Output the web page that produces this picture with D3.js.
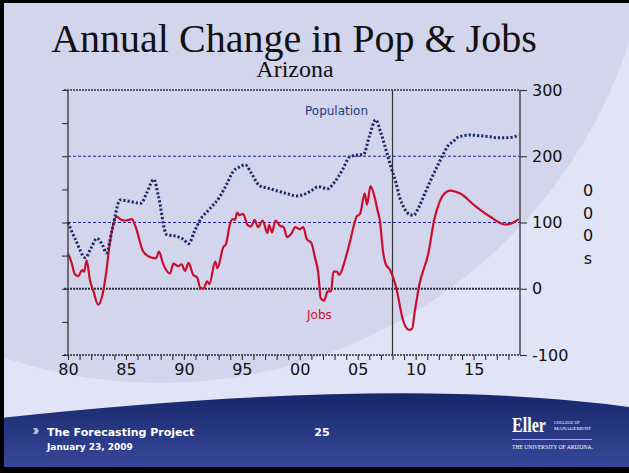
<!DOCTYPE html>
<html>
<head>
<meta charset="utf-8">
<script src="https://cdn.jsdelivr.net/npm/d3@7"></script>
<style>
  body { margin: 0; padding: 0; overflow: hidden; }
  svg { display: block; }
</style>
</head>
<body>
<svg id="chart" width="629" height="473"></svg>
<script>
// data (thousands, annual change)
var popYears = [1980.0, 1980.7, 1981.5, 1982.0, 1982.5, 1983.0, 1983.3, 1983.8, 1984.5, 1985.3,
  1986.3, 1986.8, 1987.4, 1987.8, 1988.5, 1989.4, 1990.0, 1990.4, 1990.9, 1991.4,
  1992.2, 1993.1, 1993.7, 1994.25, 1994.8, 1995.3, 1995.8, 1996.5, 1997.2, 1998.0,
  1999.0, 1999.7, 2000.3, 2000.9, 2001.6, 2002.4, 2003.0, 2003.7, 2004.3, 2005.0,
  2005.5, 2006.0, 2006.55, 2007.0, 2007.6, 2007.9, 2008.3, 2008.6, 2009.0, 2009.5,
  2009.8, 2010.3, 2010.6, 2011.2, 2012.0, 2012.35, 2012.8, 2013.2, 2013.7, 2014.65,
  2015.5, 2016.4, 2017.0, 2017.8, 2018.4, 2018.9];
var popValues = [100, 72, 47, 62, 76, 65, 54, 88, 134, 132,
  129, 145, 165, 140, 82, 79, 74, 68, 86, 104,
  120, 139, 158, 177, 184, 187, 175, 156, 152, 148,
  143, 140, 142, 147, 154, 151, 161, 180, 199, 202,
  203, 230, 255, 235, 200, 182, 160, 139, 122, 112,
  111, 124, 136, 160, 190, 202, 216, 222, 229, 232,
  231, 229.5, 228, 228, 229, 232];

var jobYears = [1980.0, 1980.3, 1980.6, 1980.9, 1981.2, 1981.4, 1981.6, 1981.9, 1982.2, 1982.6,
  1983.0, 1983.3, 1983.6, 1984.2, 1984.6, 1985.0, 1985.5, 1985.8, 1986.5, 1987.2,
  1987.6, 1987.85, 1988.2, 1988.8, 1989.1, 1989.5, 1989.8, 1990.1, 1990.4, 1990.8,
  1991.15, 1991.4, 1991.7, 1992.0, 1992.2, 1992.7, 1992.9, 1993.4, 1993.6, 1994.0,
  1994.2, 1994.4, 1994.6, 1994.8, 1995.1, 1995.5, 1995.8, 1996.1, 1996.4, 1996.8,
  1997.2, 1997.35, 1997.6, 1997.9, 1998.3, 1998.6, 1998.9, 1999.3, 1999.6, 2000.0,
  2000.3, 2000.6, 2001.0, 2001.3, 2001.6, 2001.8, 2002.1, 2002.4, 2002.7, 2002.9,
  2003.2, 2003.4, 2003.9, 2004.3, 2004.6, 2004.9, 2005.2, 2005.6, 2005.8, 2006.1,
  2006.5, 2006.7, 2006.9, 2007.2, 2007.4, 2007.8, 2008.3, 2008.9, 2009.4, 2009.7,
  2009.9, 2010.3, 2011.1, 2011.6, 2012.0, 2012.35, 2013.0, 2013.8, 2015.2, 2016.4,
  2017.7, 2018.3, 2018.9];
var jobValues = [53, 40, 22, 19, 28, 26, 43, 13, -4, -24,
  -7, 25, 68, 109, 104, 103, 105, 95, 56, 47,
  46, 56, 38, 23, 38, 34, 37, 27, 39, 21,
  17, 2, 0.5, 11, 7, 41, 31, 63, 66, 99,
  105, 104, 115, 111, 113, 96, 94, 104, 93, 103,
  84, 96, 85, 103, 95, 93, 78, 84, 93, 90,
  93, 75, 69, 48, 23, -14, -18, -4, -4, 26,
  26, 21, 43, 69, 91, 109, 113, 144, 127, 155,
  135, 119, 104, 54, 38, 28, 3, -47, -62, -60,
  -37, 5, 54, 104, 128, 141, 148, 144, 124, 109,
  97, 99, 105];

var rightTicks = [-100, 0, 100, 200, 300];
var blueGrid = [100, 200];
var darkGrid = [-100, 0, 300];
var unitLetters = ["0", "0", "0", "s"];

var svg = d3.select("#chart");

// slide background: light lavender with a darker big round sweep
svg.append("rect").attr("width", 629).attr("height", 473).attr("fill", "#e1e3f7");
svg.append("circle").attr("cx", 160).attr("cy", -110).attr("r", 493).attr("fill", "#d3d5ed");

// footer band
var defs = svg.append("defs");
var grad = defs.append("linearGradient").attr("id", "foot").attr("x1", 0).attr("y1", 0).attr("x2", 0).attr("y2", 1);
grad.append("stop").attr("offset", "0%").attr("stop-color", "#18276a");
grad.append("stop").attr("offset", "100%").attr("stop-color", "#3a4a9e");
svg.append("path")
  .attr("d", "M0,418 Q400,375 629,407 L629,473 L0,473 Z")
  .attr("fill", "url(#foot)");

// black frame on left, top and bottom
svg.append("rect").attr("x", 0).attr("y", 0).attr("width", 4).attr("height", 473).attr("fill", "#000");
svg.append("rect").attr("x", 0).attr("y", 0).attr("width", 629).attr("height", 3).attr("fill", "#000");
svg.append("rect").attr("x", 0).attr("y", 467).attr("width", 629).attr("height", 6).attr("fill", "#000");

// titles
svg.append("text")
  .attr("x", 294).attr("y", 52)
  .attr("text-anchor", "middle")
  .attr("font-family", "Liberation Serif, serif")
  .attr("font-size", 40)
  .attr("fill", "#111")
  .text("Annual Change in Pop & Jobs");
svg.append("text")
  .attr("x", 295).attr("y", 77)
  .attr("text-anchor", "middle")
  .attr("font-family", "Liberation Serif, serif")
  .attr("font-size", 24)
  .attr("fill", "#111")
  .text("Arizona");

// scales
var x = d3.scaleLinear().domain([1980, 2019]).range([68, 520]);
var y = d3.scaleLinear().domain([-100, 300]).range([355, 90]);

var plot = svg.append("g");

// horizontal reference lines
plot.selectAll(".bgrid").data(blueGrid).enter().append("line")
  .attr("x1", x(1980)).attr("x2", x(2019))
  .attr("y1", function(d) { return y(d); }).attr("y2", function(d) { return y(d); })
  .attr("stroke", "#1a239c").attr("stroke-width", 1).attr("stroke-dasharray", "3,2");
plot.selectAll(".dgrid").data(darkGrid).enter().append("line")
  .attr("x1", x(1980) - 4).attr("x2", x(2019))
  .attr("y1", function(d) { return y(d); }).attr("y2", function(d) { return y(d); })
  .attr("stroke", "#2b2b3c")
  .attr("stroke-width", function(d) { return d === 0 ? 2.2 : 1.4; })
  .attr("stroke-dasharray", "2,1");

// actual/forecast divider
plot.append("line")
  .attr("x1", x(2008)).attr("x2", x(2008))
  .attr("y1", y(300)).attr("y2", y(-100))
  .attr("stroke", "#333").attr("stroke-width", 1.2);

// axes
var fmtYear = function(d) { return d % 5 === 0 ? String(d % 100).padStart(2, "0") : ""; };
var xAxis = svg.append("g")
  .attr("transform", "translate(0," + y(-100) + ")")
  .call(d3.axisBottom(x).tickValues(d3.range(1980, 2019)).tickSize(5).tickPadding(4).tickFormat(fmtYear));
var yLeft = svg.append("g")
  .attr("transform", "translate(" + x(1980) + ",0)")
  .call(d3.axisLeft(y).tickValues(d3.range(-100, 301, 50)).tickSize(6).tickFormat(""));
// plain hyphen for negatives, as on the slide
var yRight = svg.append("g")
  .attr("transform", "translate(" + x(2019) + ",0)")
  .call(d3.axisRight(y).tickValues(rightTicks).tickSize(7).tickPadding(5)
    .tickFormat(function(d) { return String(d); }));

xAxis.select(".domain").remove();
[xAxis, yLeft, yRight].forEach(function(a) {
  a.selectAll(".domain").attr("stroke", "#333").attr("stroke-width", 1.3);
  a.selectAll(".tick line").attr("stroke", "#333").attr("stroke-width", 1.1);
  a.selectAll("text")
    .attr("font-family", "DejaVu Sans, sans-serif")
    .attr("font-size", 16)
    .attr("fill", "#111");
});
yLeft.selectAll(".domain").attr("d", "M0," + y(300) + "V" + y(-100));
yRight.selectAll(".domain").attr("d", "M0," + y(300) + "V" + y(-100));

// unit label stacked vertically
svg.append("g").selectAll("text").data(unitLetters).enter().append("text")
  .attr("x", 588)
  .attr("y", function(d, i) { return 196 + i * 22.5; })
  .attr("text-anchor", "middle")
  .attr("font-family", "DejaVu Sans, sans-serif")
  .attr("font-size", 16)
  .attr("fill", "#111")
  .text(function(d) { return d; });

// series
var popLine = d3.line()
  .x(function(d, i) { return x(popYears[i]); })
  .y(function(d) { return y(d); })
  .curve(d3.curveMonotoneX);
var jobLine = d3.line()
  .x(function(d, i) { return x(jobYears[i]); })
  .y(function(d) { return y(d); })
  .curve(d3.curveMonotoneX);

plot.append("path")
  .datum(jobValues)
  .attr("d", jobLine)
  .attr("fill", "none")
  .attr("stroke", "#c8102e")
  .attr("stroke-width", 2.2)
  .attr("stroke-linejoin", "round");
plot.append("path")
  .datum(popValues)
  .attr("d", popLine)
  .attr("fill", "none")
  .attr("stroke", "#1c2b66")
  .attr("stroke-width", 3)
  .attr("stroke-dasharray", "2.2,2");

// series labels
svg.append("text")
  .attr("x", 305).attr("y", 115)
  .attr("font-family", "DejaVu Sans, sans-serif").attr("font-size", 12)
  .attr("fill", "#1f3a80")
  .text("Population");
svg.append("text")
  .attr("x", 307).attr("y", 319)
  .attr("font-family", "DejaVu Sans, sans-serif").attr("font-size", 12)
  .attr("fill", "#c8102e")
  .text("Jobs");

// footer text
svg.append("path")
  .attr("d", "M33,428 L37,428 L39,431 L37,434 L33,434 L35,431 Z")
  .attr("fill", "#b8bccb");
svg.append("text")
  .attr("x", 47).attr("y", 436)
  .attr("font-family", "DejaVu Sans, sans-serif").attr("font-weight", "bold").attr("font-size", 11)
  .attr("fill", "#fff")
  .text("The Forecasting Project");
svg.append("text")
  .attr("x", 47).attr("y", 450)
  .attr("font-family", "DejaVu Sans, sans-serif").attr("font-weight", "bold").attr("font-size", 9)
  .attr("fill", "#fff")
  .text("January 23, 2009");
svg.append("text")
  .attr("x", 322).attr("y", 436)
  .attr("text-anchor", "middle")
  .attr("font-family", "DejaVu Sans, sans-serif").attr("font-weight", "bold").attr("font-size", 11)
  .attr("fill", "#fff")
  .text("25");

// Eller logo, as text
var logo = svg.append("g").attr("fill", "#fff");
logo.append("text")
  .attr("x", 512).attr("y", 432)
  .attr("font-family", "Liberation Serif, serif").attr("font-weight", "bold").attr("font-size", 20)
  .attr("textLength", 34).attr("lengthAdjust", "spacingAndGlyphs")
  .text("Eller");
logo.append("text")
  .attr("x", 554).attr("y", 424)
  .attr("font-family", "Liberation Serif, serif").attr("font-size", 5)
  .attr("textLength", 26).attr("lengthAdjust", "spacingAndGlyphs")
  .text("COLLEGE OF");
logo.append("text")
  .attr("x", 554).attr("y", 430)
  .attr("font-family", "Liberation Serif, serif").attr("font-size", 5)
  .attr("textLength", 37).attr("lengthAdjust", "spacingAndGlyphs")
  .text("MANAGEMENT");
logo.append("line")
  .attr("x1", 512).attr("x2", 592).attr("y1", 439.5).attr("y2", 439.5)
  .attr("stroke", "#c9cde6").attr("stroke-width", 0.8);
logo.append("text")
  .attr("x", 512).attr("y", 449)
  .attr("font-family", "Liberation Serif, serif").attr("font-size", 6)
  .attr("textLength", 81).attr("lengthAdjust", "spacingAndGlyphs")
  .text("THE UNIVERSITY OF ARIZONA.");
</script>
</body>
</html>
